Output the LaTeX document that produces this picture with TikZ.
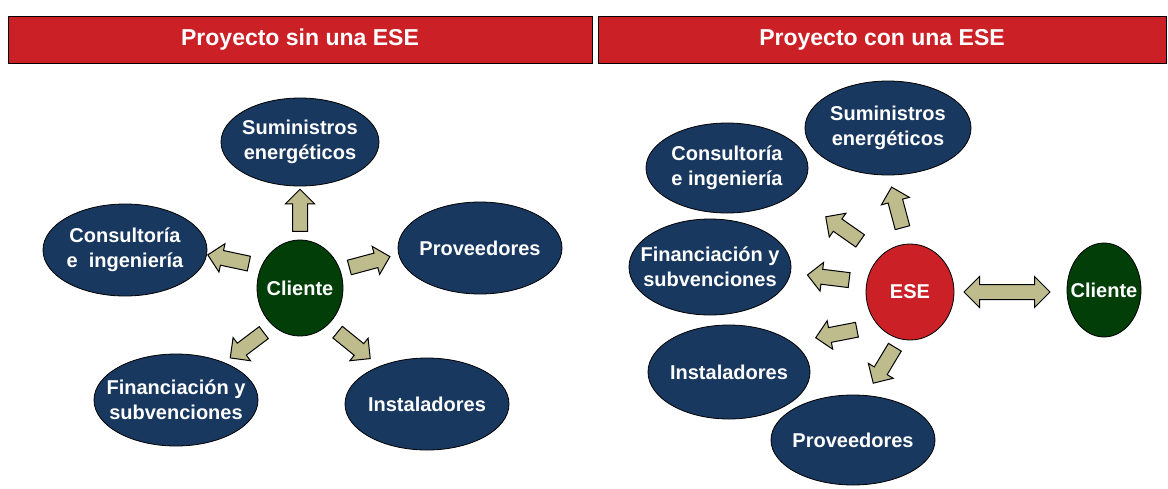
\documentclass[tikz,border=0pt]{standalone}
\usepackage{fontspec}
\setmainfont{Liberation Sans}
\usetikzlibrary{shapes.geometric, shapes.arrows}
\definecolor{rojo}{RGB}{204,32,39}
\definecolor{azul}{RGB}{24,56,96}
\definecolor{verde}{RGB}{2,62,8}
\definecolor{caqui}{RGB}{190,187,140}

\begin{document}
\begin{tikzpicture}[x=0.5pt,y=-0.5pt,
  titulo/.style={draw=black, fill=rojo, text=white, minimum height=23.5pt,
    font=\bfseries\fontsize{11.5}{14}\selectfont},
  elip/.style={ellipse, draw=black, fill=azul, text=white, align=center,
    inner xsep=-7pt, inner ysep=0pt, minimum width=82pt, minimum height=46pt,
    font=\bfseries\fontsize{10}{12.5}\selectfont},
  centro/.style={elip, minimum width=43pt, minimum height=48pt},
  blk/.style={single arrow, draw=black, fill=caqui, line width=0.5pt,
    minimum height=21pt, minimum width=14pt, inner xsep=0pt, inner ysep=3.5pt,
    text height=0pt, text depth=0pt, single arrow head extend=3.5pt},
  dblk/.style={double arrow, draw=black, fill=caqui, line width=0.5pt,
    minimum height=43pt, minimum width=15pt, inner xsep=0pt, inner ysep=3.5pt,
    text height=0pt, text depth=0pt, double arrow head extend=4pt}]
\useasboundingbox (0,0) rectangle (1168,488);

% cabeceras
\node[titulo, minimum width=292pt] (t1) at (300,39.5) {Proyecto sin una ESE};
\node[titulo, minimum width=284pt] (t2) at (882,39.5) {Proyecto con una ESE};

% proyecto sin ESE
\node[centro, fill=verde] (cli1) at (300,288) {Cliente};
\node[elip, minimum width=79pt, minimum height=44pt] (sum1) at (300,142) {Suministros\\energéticos};
\node[elip] (con1) at (125,250) {Consultoría\\e\ \ ingeniería};
\node[elip] (pro1) at (480,248) {Proveedores};
\node[elip] (fin1) at (176,400) {Financiación y\\subvenciones};
\node[elip] (ins1) at (427,404) {Instaladores};

\node[blk, rotate=90] (a1) at (300,214) {};
\node[blk, rotate=168] (a2) at (232,260) {};
\node[blk, rotate=15] (a3) at (366,263) {};
\node[blk, rotate=217] (a4) at (250,343) {};
\node[blk, rotate=-39] (a5) at (351,343) {};

% proyecto con ESE
\node[centro, fill=rojo, minimum width=44pt] (ese) at (910,292) {ESE};
\node[centro, fill=verde, minimum width=37pt, minimum height=47pt] (cli2) at (1104,290) {Cliente};
\node[elip, minimum width=83pt, minimum height=47pt] (sum2) at (888,128) {Suministros\\energéticos};
\node[elip, minimum width=81pt, minimum height=45pt] (con2) at (727,168) {Consultoría\\e ingeniería};
\node[elip, minimum width=81pt, minimum height=48pt] (fin2) at (710,267) {Financiación y\\subvenciones};
\node[elip, minimum width=81pt, minimum height=47pt] (ins2) at (729,372) {Instaladores};
\node[elip, minimum height=45pt] (pro2) at (853,440) {Proveedores};

\node[blk, rotate=105] (b1) at (898,211) {};
\node[blk, rotate=145] (b2) at (846,231) {};
\node[blk, rotate=173] (b3) at (832,278) {};
\node[blk, rotate=191] (b4) at (840,333) {};
\node[blk, rotate=239] (b5) at (886,362) {};
\node[dblk] (b6) at (1007,292) {};
\end{tikzpicture}
\end{document}
